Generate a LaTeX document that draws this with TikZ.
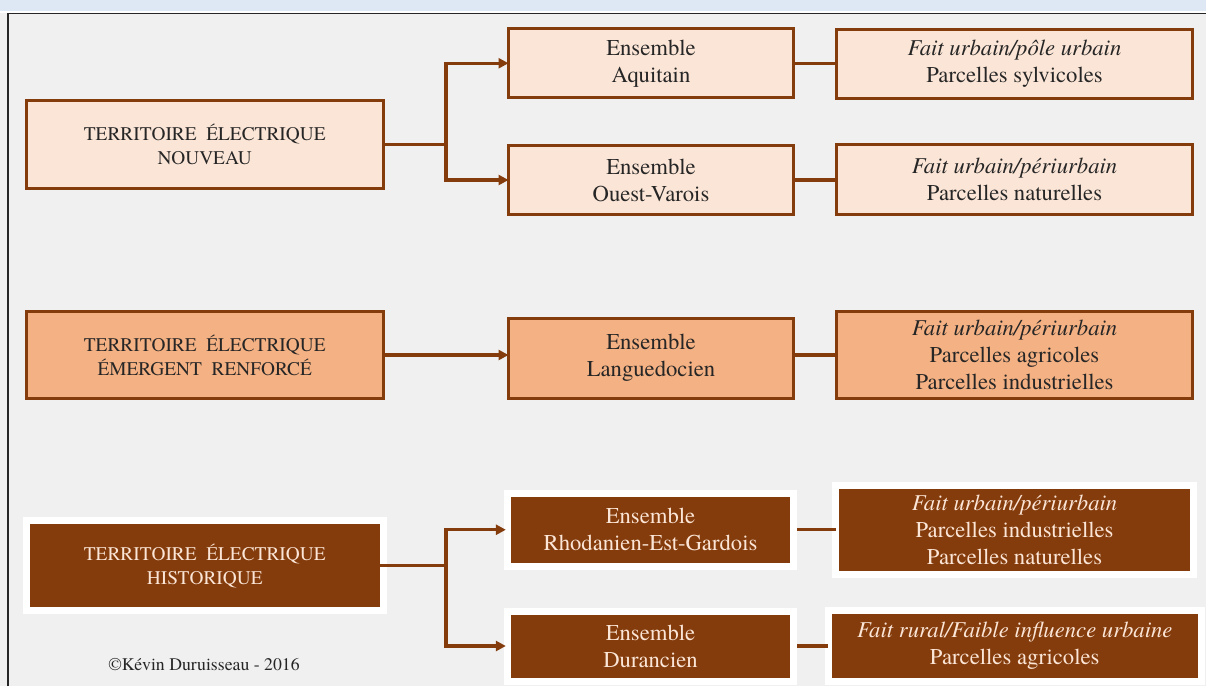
\documentclass[tikz,border=0pt]{standalone}
\usepackage{fontspec}
\setmainfont{TeX Gyre Termes}
\usetikzlibrary{arrows.meta}
\definecolor{bgc}{HTML}{F0F0F0}
\definecolor{bandc}{HTML}{DEE8F4}
\definecolor{brownc}{HTML}{843C0C}
\definecolor{lightc}{HTML}{FBE5D6}
\definecolor{midc}{HTML}{F4B183}
\definecolor{creamc}{HTML}{FBE5D6}
\definecolor{txtc}{HTML}{262626}
\tikzset{
  base/.style={rectangle, inner sep=0pt, outer sep=0pt, align=center, anchor=center},
  lightbox/.style={base, draw=brownc, line width=2.25pt, fill=lightc, text=txtc},
  midbox/.style={base, draw=brownc, line width=2.25pt, fill=midc, text=txtc},
  darkbox/.style={base, draw=white, line width=5.25pt, fill=brownc, text=creamc},
  terrfont/.style={font=\fontsize{14.5}{18}\selectfont},
  ensfont/.style={font=\fontsize{17}{20.3}\selectfont},
  conn/.style={draw=brownc, line width=2.3pt},
  arr/.style={conn, -{Triangle[length=7.5pt,width=7.5pt]}},
}
\begin{document}
\begin{tikzpicture}[x=0.75pt, y=-0.75pt]
\useasboundingbox (0,0) rectangle (1206,686);
\fill[bgc] (0,0) rectangle (1206,686);
\fill[bandc] (0,0) rectangle (1206,11);
\fill[white] (0,11) rectangle (1206,12.5);
\draw[line width=1.1pt, black!85] (8,686) -- (8,13.5) -- (1206,13.5);

% Row 1
\node[lightbox, terrfont, minimum width=267.4pt, minimum height=66pt] (t1) at (204.75,144.5) {TERRITOIRE~~ÉLECTRIQUE\\NOUVEAU};
\node[lightbox, ensfont, minimum width=213.75pt, minimum height=52pt] (aq) at (651,63.25) {Ensemble\\Aquitain};
\node[lightbox, ensfont, minimum width=213.75pt, minimum height=52pt] (ov) at (651,180) {Ensemble\\Ouest-Varois};
\node[lightbox, ensfont, minimum width=267pt, minimum height=51.75pt] (f1) at (1014.5,64) {\textit{Fait urbain/pôle urbain}\\Parcelles sylvicoles};
\node[lightbox, ensfont, minimum width=267pt, minimum height=52.5pt] (f2) at (1014.5,179.5) {\textit{Fait urbain/périurbain}\\Parcelles naturelles};

% Row 2
\node[midbox, terrfont, minimum width=267.4pt, minimum height=65.25pt] (t2) at (204.75,355) {TERRITOIRE~~ÉLECTRIQUE\\ÉMERGENT~~RENFORCÉ};
\node[midbox, ensfont, minimum width=213.75pt, minimum height=60pt] (la) at (651,358) {Ensemble\\Languedocien};
\node[midbox, ensfont, minimum width=267pt, minimum height=65.25pt] (f3) at (1014.5,355) {\textit{Fait urbain/périurbain}\\Parcelles agricoles\\Parcelles industrielles};

% Row 3
\node[darkbox, terrfont, minimum width=268pt, minimum height=67.5pt] (t3) at (204.75,565.5) {TERRITOIRE~~ÉLECTRIQUE\\HISTORIQUE};
\node[darkbox, ensfont, minimum width=215pt, minimum height=54.4pt] (rh) at (650.5,529.75) {Ensemble\\Rhodanien-Est-Gardois};
\node[darkbox, ensfont, minimum width=215pt, minimum height=52.5pt] (du) at (650.5,646) {Ensemble\\Durancien};
\node[darkbox, ensfont, minimum width=268.5pt, minimum height=66.75pt] (f4) at (1014.5,530) {\textit{Fait urbain/périurbain}\\Parcelles industrielles\\Parcelles naturelles};
\node[darkbox, ensfont, minimum width=279.4pt, minimum height=53.25pt] (f5) at (1014.75,646) {\textit{Fait rural/Faible influence urbaine}\\Parcelles agricoles};

\node[base, text=txtc, font=\fontsize{13.3}{15}\selectfont] (copy) at (204,665) {©Kévin Duruisseau - 2016};

% Connectors row 1
\coordinate (j1) at (446,144.5);
\draw[conn] (t1.east) -- (j1);
\draw[arr] (j1) |- (aq.west);
\draw[arr] (j1) |- (ov.west);
\draw[conn] (aq.east) -- (aq.east -| f1.west);
\draw[conn] (ov.east) -- (ov.east -| f2.west);

% Connectors row 2
\draw[arr] (t2.east) -- (t2.east -| la.west);
\draw[conn] (t2.east -| la.east) -- (t2.east -| f3.west);

% Connectors row 3
\coordinate (j3) at (446,565.5);
\draw[conn] ([xshift=-2.6pt]t3.east) -- (j3);
\draw[arr] (j3) |- ([xshift=-1pt]rh.west);
\draw[arr] (j3) |- ([xshift=-1pt]du.west);
\draw[conn] ([xshift=2.6pt]rh.east) -- (rh.east -| f4.west);
\draw[conn] ([xshift=2.6pt]du.east) -- (du.east -| f5.west);
\end{tikzpicture}
\end{document}
